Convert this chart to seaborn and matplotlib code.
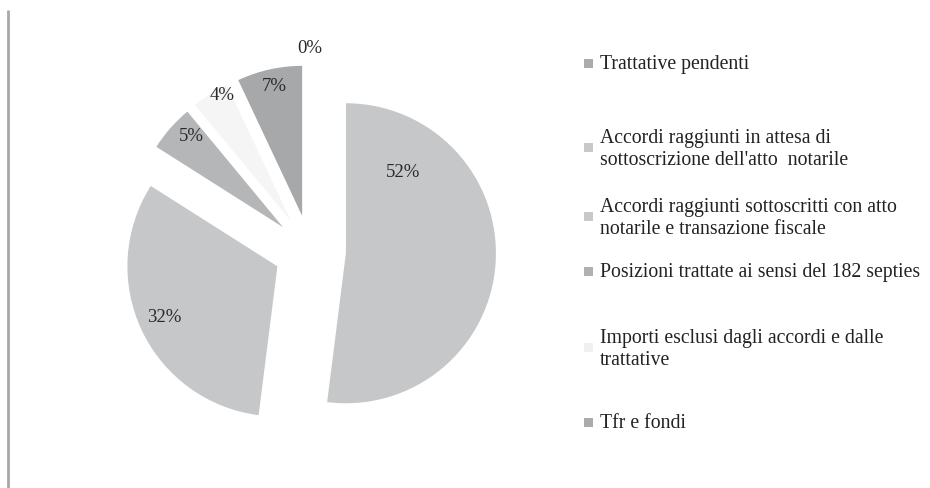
import matplotlib
matplotlib.use("Agg")
import matplotlib.pyplot as plt
import matplotlib.patches as mpatches
import numpy as np
import seaborn as sns

# ---- data ----
categories = [
    "Trattative pendenti",
    "Accordi raggiunti in attesa di\nsottoscrizione dell'atto  notarile",
    "Accordi raggiunti sottoscritti con atto\nnotarile e transazione fiscale",
    "Posizioni trattate ai sensi del 182 septies",
    "Importi esclusi dagli accordi e dalle\ntrattative",
    "Tfr e fondi",
]
values = [0, 52, 32, 5, 4, 7]

# ---- style ----
sns.set_theme(style="white")
plt.rcParams["font.family"] = ["Liberation Serif", "DejaVu Serif"]

slice_colors = sns.color_palette(["#a9aaac", "#c6c7c9", "#c6c7c9", "#b5b6b8", "#f5f5f5", "#a7a8aa"])
legend_colors = ["#ababab", "#c8c8c8", "#c8c8c8", "#b0b0b0", "#f0f0f0", "#ababab"]

# label placement (angle in degrees, distance from pie centre in radii)
label_angles = [90, 40.3, 204.6, 136, 119.4, 102.4]
label_dists = [1.35, 0.81, 1.07, 1.10, 1.19, 1.12]
# legend row y positions (pixels from top)
legend_rows = [63, 147.5, 216.5, 271, 347.5, 422]

W, H = 930, 488
fig = plt.figure(figsize=(W / 100, H / 100), dpi=100)
fig.patch.set_facecolor("white")
ax = fig.add_axes([0, 0, 1, 1])

cx, cy, R = 310, H - 251, 150
explode_frac = 0.24
wedges, texts, autotexts = ax.pie(
    values,
    colors=slice_colors,
    startangle=90,
    counterclock=False,
    explode=[explode_frac * R] * len(values),
    center=(cx, cy),
    radius=R,
    autopct=lambda p: f"{p:.0f}%",
    wedgeprops=dict(linewidth=0),
    textprops=dict(fontsize=13.5, color="#2a2a2a"),
    frame=True,
)
ax.set_xlim(0, W)
ax.set_ylim(0, H)
ax.set_aspect("equal")
ax.axis("off")

for t, a, d in zip(autotexts, label_angles, label_dists):
    th = np.deg2rad(a)
    t.set_position((cx + d * R * np.cos(th), cy + d * R * np.sin(th)))
    t.set_ha("center")
    t.set_va("center")

# left border line
ax.plot([8, 8], [0, H - 10], color="#a8a8a8", lw=2, solid_capstyle="butt")

# legend
for lab, col, y in zip(categories, legend_colors, legend_rows):
    yy = H - y
    ax.add_patch(mpatches.Rectangle((584, yy - 4.5), 9, 9, color=col, lw=0))
    ax.text(600, yy - 2, lab, ha="left", va="center", fontsize=14.2, color="#222222",
            linespacing=1.18)

fig.savefig("out.png", dpi=100, facecolor="white")
